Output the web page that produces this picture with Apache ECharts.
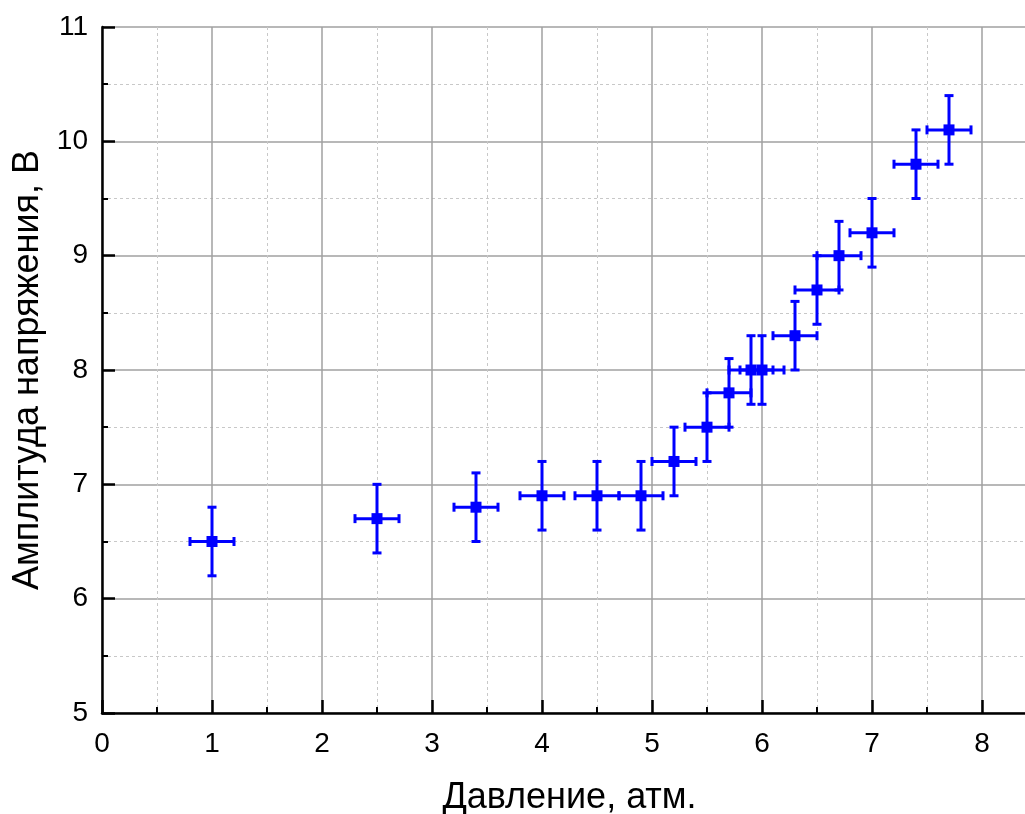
<!DOCTYPE html>
<html>
<head>
<meta charset="utf-8">
<script src="https://cdn.jsdelivr.net/npm/echarts@6/dist/echarts.min.js"></script>
<style>
  html, body { margin: 0; padding: 0; background: #fff; }
  #chart { width: 1025px; height: 814px; }
</style>
</head>
<body>
<div id="chart"></div>
<script>
// Pressure (atm) and voltage amplitude (V) with their uncertainties
const pressure  = [1.0, 2.5, 3.4, 4.0, 4.5, 4.9, 5.2, 5.5, 5.7, 5.9, 6.0, 6.3, 6.5, 6.7, 7.0, 7.4, 7.7];
const amplitude = [6.5, 6.7, 6.8, 6.9, 6.9, 6.9, 7.2, 7.5, 7.8, 8.0, 8.0, 8.3, 8.7, 9.0, 9.2, 9.8, 10.1];
const pressureErr  = [0.2, 0.2, 0.2, 0.2, 0.2, 0.2, 0.2, 0.2, 0.2, 0.2, 0.2, 0.2, 0.2, 0.2, 0.2, 0.2, 0.2];
const amplitudeErr = [0.3, 0.3, 0.3, 0.3, 0.3, 0.3, 0.3, 0.3, 0.3, 0.3, 0.3, 0.3, 0.3, 0.3, 0.3, 0.3, 0.3];

const xTitle = 'Давление, атм.';
const yTitle = 'Амплитуда напряжения, В';

const BLUE = '#0000ff';
const FONT = '"Liberation Sans", Arial, sans-serif';

const points = pressure.map((p, i) => [p, amplitude[i]]);
const errRows = pressure.map((p, i) => [p, amplitude[i], pressureErr[i], amplitudeErr[i]]);

// Cross-shaped error bars with end caps
function renderErrorBars(params, api) {
  const x = api.value(0), y = api.value(1);
  const dx = api.value(2), dy = api.value(3);
  const c = api.coord([x, y]);
  const l = api.coord([x - dx, y]);
  const r = api.coord([x + dx, y]);
  const t = api.coord([x, y + dy]);
  const b = api.coord([x, y - dy]);
  const cap = 4.5;
  const style = { stroke: BLUE, lineWidth: 3, fill: null };
  const line = (x1, y1, x2, y2) => ({ type: 'line', shape: { x1, y1, x2, y2 }, style });
  return {
    type: 'group',
    children: [
      line(l[0], c[1], r[0], c[1]),
      line(c[0], t[1], c[0], b[1]),
      line(l[0], c[1] - cap, l[0], c[1] + cap),
      line(r[0], c[1] - cap, r[0], c[1] + cap),
      line(c[0] - cap, t[1], c[0] + cap, t[1]),
      line(c[0] - cap, b[1], c[0] + cap, b[1])
    ]
  };
}

const axisCommon = {
  type: 'value',
  interval: 1,
  axisLine: { show: true, onZero: false, lineStyle: { color: '#000', width: 2.5 } },
  axisTick: { show: true, inside: true, length: 13, lineStyle: { color: '#000', width: 2.5 } },
  minorTick: { show: true, splitNumber: 2, length: 6, lineStyle: { color: '#000', width: 2 } },
  splitLine: { show: true, lineStyle: { color: '#a0a0a0', width: 1.5 } },
  minorSplitLine: { show: true, lineStyle: { color: '#c8c8c8', width: 1, type: [3, 3] } },
  axisLabel: { color: '#000', fontSize: 28, fontFamily: FONT, showMaxLabel: false },
  nameLocation: 'middle',
  nameTextStyle: { color: '#000', fontSize: 36, fontFamily: FONT }
};

const chart = echarts.init(document.getElementById('chart'), null, { renderer: 'canvas' });
chart.setOption({
  animation: false,
  backgroundColor: '#fff',
  grid: {
    left: 102, top: 27, width: 935, height: 686,
    containLabel: false, outerBoundsMode: 'none'
  },
  xAxis: Object.assign({}, axisCommon, {
    min: 0, max: 8.5,
    name: xTitle, nameGap: 67,
    axisLabel: Object.assign({}, axisCommon.axisLabel, { margin: 17 })
  }),
  yAxis: Object.assign({}, axisCommon, {
    min: 5, max: 11,
    name: yTitle, nameGap: 54,
    axisLabel: Object.assign({}, axisCommon.axisLabel, { margin: 14, showMaxLabel: true })
  }),
  series: [
    {
      type: 'custom',
      renderItem: renderErrorBars,
      data: errRows,
      encode: { x: 0, y: 1 },
      clip: false,
      z: 2
    },
    {
      type: 'scatter',
      data: points,
      symbol: 'rect',
      symbolSize: 11,
      itemStyle: { color: BLUE, opacity: 1 },
      z: 3
    }
  ]
});
</script>
</body>
</html>
